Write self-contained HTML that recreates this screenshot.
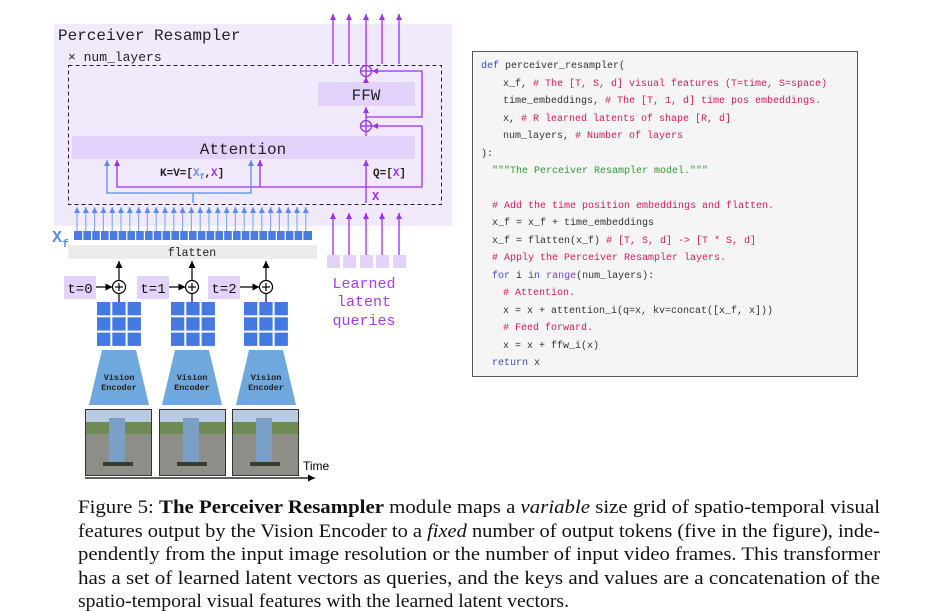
<!DOCTYPE html>
<html><head><meta charset="utf-8"><style>
body{margin:0;background:#fff;}
svg{display:block}
.m{font-family:"Liberation Mono","DejaVu Sans Mono",monospace}
.c{font-family:"Liberation Mono","DejaVu Sans Mono",monospace;font-size:10px;fill:#333}
.r{fill:#d81b60}
.k{fill:#3b4fb8}
.cap{font-family:"Liberation Serif",serif;font-size:19px;fill:#111}
</style></head><body>
<svg width="926" height="611" viewBox="0 0 926 611" xmlns="http://www.w3.org/2000/svg">
<defs>
<marker id="ap" markerWidth="6" markerHeight="6" refX="6" refY="3" orient="auto-start-reverse" markerUnits="userSpaceOnUse"><path d="M0,0 L6,3 L0,6z" fill="#9b30f0"/></marker>
<marker id="ab" markerWidth="6" markerHeight="6" refX="6" refY="3" orient="auto-start-reverse" markerUnits="userSpaceOnUse"><path d="M0,0 L6,3 L0,6z" fill="#5b8def"/></marker>
<marker id="ak" markerWidth="7" markerHeight="7" refX="7" refY="3.5" orient="auto" markerUnits="userSpaceOnUse"><path d="M0,0 L7,3.5 L0,7z" fill="#000"/></marker>
<marker id="akr" markerWidth="7" markerHeight="7" refX="7" refY="3.5" orient="auto" markerUnits="userSpaceOnUse"><path d="M0,0 L7,3.5 L0,7z" fill="#000"/></marker>
<marker id="apr" markerWidth="6" markerHeight="6" refX="6" refY="3" orient="auto" markerUnits="userSpaceOnUse"><path d="M0,0 L6,3 L0,6z" fill="#9b30f0"/></marker>
</defs>
<rect x="54" y="24" width="398" height="202" fill="#f1e9fc"/>
<text x="58" y="40" class="m" font-size="16" fill="#222">Perceiver Resampler</text>
<text x="68" y="61" class="m" font-size="13" fill="#222">× num_layers</text>
<rect x="68.5" y="65.5" width="373" height="139" fill="none" stroke="#222" stroke-dasharray="4,3"/>
<rect x="318" y="82" width="97" height="24" fill="#e3d3fb"/>
<text x="366" y="100" class="m" font-size="16" text-anchor="middle" fill="#222">FFW</text>
<rect x="72" y="136" width="343" height="23" fill="#e3d3fb"/>
<text x="243" y="154" class="m" font-size="16" text-anchor="middle" fill="#222">Attention</text>
<g stroke="#9b30f0" stroke-width="1.3" fill="none">
<line x1="333" y1="64" x2="333" y2="14" marker-end="url(#ap)"/>
<line x1="349" y1="64" x2="349" y2="14" marker-end="url(#ap)"/>
<line x1="366" y1="65" x2="366" y2="14" marker-end="url(#ap)"/>
<line x1="382" y1="64" x2="382" y2="14" marker-end="url(#ap)"/>
<line x1="399" y1="64" x2="399" y2="14" marker-end="url(#ap)"/>
<circle cx="366" cy="71" r="5.5"/><line x1="360.5" y1="71" x2="371.5" y2="71"/><line x1="366" y1="65.5" x2="366" y2="76.5"/>
<circle cx="366" cy="126" r="5.5"/><line x1="360.5" y1="126" x2="371.5" y2="126"/><line x1="366" y1="120.5" x2="366" y2="131.5"/>
<line x1="366" y1="82" x2="366" y2="77" marker-end="url(#ap)"/>
<line x1="366" y1="136" x2="366" y2="132"/>
<line x1="366" y1="120" x2="366" y2="107" marker-end="url(#ap)"/>
<polyline points="366,117 422,117 422,71 372,71" marker-end="url(#apr)"/>
<polyline points="366,187 422,187 422,126 372,126" marker-end="url(#apr)"/>
<line x1="366" y1="203" x2="366" y2="160" marker-end="url(#ap)"/>
<polyline points="117,160 117,187 366,187" marker-start="url(#ap)"/>
<line x1="260" y1="187" x2="260" y2="160" marker-end="url(#ap)"/>
<line x1="333" y1="255" x2="333" y2="213" marker-end="url(#ap)"/>
<line x1="349" y1="255" x2="349" y2="213" marker-end="url(#ap)"/>
<line x1="366" y1="255" x2="366" y2="213" marker-end="url(#ap)"/>
<line x1="382" y1="255" x2="382" y2="213" marker-end="url(#ap)"/>
<line x1="399" y1="255" x2="399" y2="213" marker-end="url(#ap)"/>
</g>
<g stroke="#5b8def" stroke-width="1.3" fill="none">
<polyline points="107,160 107,193 251,193 251,160" marker-start="url(#ab)" marker-end="url(#ab)"/>
<line x1="193" y1="193" x2="193" y2="203"/>
</g>
<text x="372" y="200" class="m" font-size="12" font-weight="bold" fill="#9b30f0">X</text>
<text x="160" y="176" class="m" font-size="11" font-weight="bold" fill="#222">K=V=[<tspan fill="#5b8def">X<tspan font-size="8" dy="3">f</tspan></tspan><tspan dy="-3">,</tspan><tspan fill="#9b30f0">X</tspan>]</text>
<text x="373" y="176" class="m" font-size="11" font-weight="bold" fill="#222">Q=[<tspan fill="#9b30f0">X</tspan>]</text>
<g id="barr" stroke="#7fa7f2" stroke-width="1.1"></g>
<rect x="74" y="231" width="238" height="9" fill="#4a7be3"/>
<g id="gaps" fill="#fff"></g>
<text x="52" y="242" class="m" font-size="17" font-weight="bold" fill="#5b8def">X<tspan font-size="11" dy="5">f</tspan></text>
<rect x="68" y="245" width="249" height="14" fill="#ececec"/>
<text x="192" y="256" class="m" font-size="11.5" text-anchor="middle" fill="#222">flatten</text>
<g fill="#e3d3fb"><rect x="327" y="255" width="13" height="13"/><rect x="343" y="255" width="13" height="13"/><rect x="360" y="255" width="13" height="13"/><rect x="376" y="255" width="13" height="13"/><rect x="393" y="255" width="13" height="13"/></g>
<g class="m" font-size="15" fill="#a63cf0" text-anchor="middle"><text x="364" y="288">Learned</text><text x="364" y="306">latent</text><text x="364" y="325">queries</text></g>
<g id="frames"></g>
<line x1="85" y1="478" x2="315" y2="478" stroke="#000" stroke-width="1.2" marker-end="url(#akr)"/>
<text x="303" y="470" font-family="Liberation Sans,sans-serif" font-size="12" fill="#000">Time</text>
<rect x="472.5" y="51.5" width="385" height="325" fill="#f5f5f5" stroke="#555"/>
<text class="c" x="481" y="68"><tspan class="k">def</tspan> perceiver_resampler(</text>
<text class="c" x="503" y="86">x_f,  <tspan class="r"># The [T, S, d] visual features (T=time, S=space)</tspan></text>
<text class="c" x="503" y="103">time_embeddings,  <tspan class="r"># The [T, 1, d] time pos embeddings.</tspan></text>
<text class="c" x="503" y="121">x,  <tspan class="r"># R learned latents of shape [R, d]</tspan></text>
<text class="c" x="503" y="138">num_layers,  <tspan class="r"># Number of layers</tspan></text>
<text class="c" x="481" y="156">):</text>
<text class="c" x="492" y="173" style="fill:#2e9a3a">"""The Perceiver Resampler model."""</text>
<text class="c r" x="492" y="208"># Add the time position embeddings and flatten.</text>
<text class="c" x="492" y="225">x_f = x_f + time_embeddings</text>
<text class="c" x="492" y="243">x_f = flatten(x_f)  <tspan class="r"># [T, S, d] -&gt; [T * S, d]</tspan></text>
<text class="c r" x="492" y="260"># Apply the Perceiver Resampler layers.</text>
<text class="c" x="492" y="278"><tspan class="k">for</tspan> i <tspan class="k">in</tspan> <tspan fill="#7b3fb8">range</tspan>(num_layers):</text>
<text class="c r" x="503" y="295"># Attention.</text>
<text class="c" x="503" y="313">x = x + attention_i(q=x, kv=concat([x_f, x]))</text>
<text class="c r" x="503" y="330"># Feed forward.</text>
<text class="c" x="503" y="348">x = x + ffw_i(x)</text>
<text class="c" x="492" y="365"><tspan class="k">return</tspan> x</text>
<text class="cap" x="78" y="513" textLength="802" lengthAdjust="spacingAndGlyphs">Figure 5:  <tspan font-weight="bold">The Perceiver Resampler</tspan> module maps a <tspan font-style="italic">variable</tspan> size grid of spatio-temporal visual</text>
<text class="cap" x="78" y="537" textLength="802" lengthAdjust="spacingAndGlyphs">features output by the Vision Encoder to a <tspan font-style="italic">fixed</tspan> number of output tokens (five in the figure), inde-</text>
<text class="cap" x="78" y="560" textLength="802" lengthAdjust="spacingAndGlyphs">pendently from the input image resolution or the number of input video frames. This transformer</text>
<text class="cap" x="78" y="584" textLength="802" lengthAdjust="spacingAndGlyphs">has a set of learned latent vectors as queries, and the keys and values are a concatenation of the</text>
<text class="cap" x="78" y="607" textLength="491" lengthAdjust="spacingAndGlyphs">spatio-temporal visual features with the learned latent vectors.</text>
</svg>
<script>
var NS="http://www.w3.org/2000/svg";
function el(p,t,a){var e=document.createElementNS(NS,t);for(var k in a)e.setAttribute(k,a[k]);p.appendChild(e);return e;}
var b=document.getElementById("barr");
for(var i=0;i<27;i++){var x=77+i*8.8;el(b,"line",{x1:x,y1:231,x2:x,y2:207,"marker-end":"url(#ab)"});}
var g=document.getElementById("gaps");
for(var i=1;i<27;i++){var x=74+i*8.8;el(g,"rect",{x:x-0.6,y:231,width:1.2,height:9});}
var f=document.getElementById("frames");
var fr=[{t:"t=0",bx:64,px:119,gx:97,img:85},{t:"t=1",bx:137,px:192,gx:171,img:159},{t:"t=2",bx:208,px:266,gx:244,img:232}];
fr.forEach(function(o){
 el(f,"rect",{x:o.bx,y:276,width:32,height:23,fill:"#e3d3fb"});
 var tx=el(f,"text",{x:o.bx+16,y:293,"text-anchor":"middle","font-family":"Liberation Mono,monospace","font-size":"14",fill:"#111"});tx.textContent=o.t;
 el(f,"line",{x1:o.bx+32,y1:287,x2:o.px-6.5,y2:287,stroke:"#000","stroke-width":1.2,"marker-end":"url(#akr)"});
 el(f,"circle",{cx:o.px,cy:287,r:6.5,fill:"#fff",stroke:"#000","stroke-width":1.2});
 el(f,"line",{x1:o.px-4,y1:287,x2:o.px+4,y2:287,stroke:"#000","stroke-width":1.2});
 el(f,"line",{x1:o.px,y1:283,x2:o.px,y2:291,stroke:"#000","stroke-width":1.2});
 el(f,"line",{x1:o.px,y1:280,x2:o.px,y2:261,stroke:"#000","stroke-width":1.2,"marker-end":"url(#ak)"});
 el(f,"line",{x1:o.px,y1:294,x2:o.px,y2:302,stroke:"#000","stroke-width":1.2});
 for(var r=0;r<3;r++)for(var c=0;c<3;c++)el(f,"rect",{x:o.gx+c*15.3,y:302+r*15.3,width:13.3,height:13.3,fill:"#4479e2"});
 var cx=o.px;
 el(f,"polygon",{points:(cx-17)+",350 "+(cx+17)+",350 "+(cx+30)+",405 "+(cx-30)+",405",fill:"#6fa8dc"});
 var t1=el(f,"text",{x:cx,y:380,"text-anchor":"middle","font-family":"Liberation Mono,monospace","font-size":"8.5","font-weight":"bold",fill:"#222"});t1.textContent="Vision";
 var t2=el(f,"text",{x:cx,y:390,"text-anchor":"middle","font-family":"Liberation Mono,monospace","font-size":"8.5","font-weight":"bold",fill:"#222"});t2.textContent="Encoder";
 el(f,"rect",{x:o.img,y:409,width:67,height:67,fill:"#333"});
 el(f,"rect",{x:o.img+1,y:410,width:65,height:12,fill:"#b8cbe0"});
 el(f,"rect",{x:o.img+1,y:422,width:65,height:12,fill:"#6f8a52"});
 el(f,"rect",{x:o.img+1,y:434,width:65,height:41,fill:"#8e8e88"});
 el(f,"rect",{x:o.img+24,y:418,width:16,height:44,fill:"#7aa0c8"});
 el(f,"rect",{x:o.img+18,y:462,width:30,height:4,fill:"#3a3a30"});
});
</script>
</body></html>
